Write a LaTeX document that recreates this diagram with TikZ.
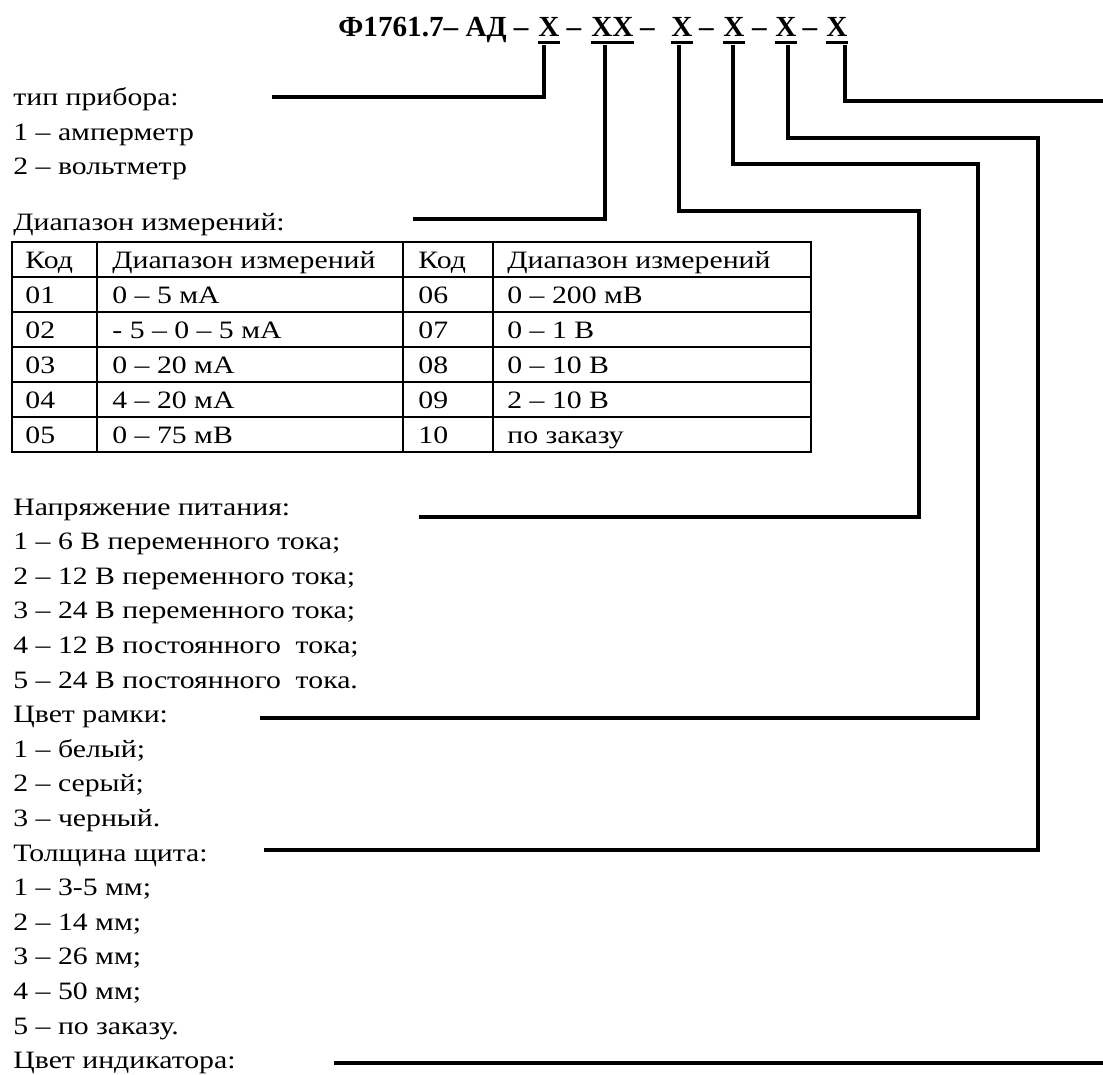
\documentclass[tikz,border=0pt]{standalone}
\usepackage{fontspec}
\setmainfont{Liberation Serif}
\newfontfamily\wideserif[FakeStretch=1.19]{Liberation Serif}

\begin{document}
\begin{tikzpicture}[x=0.48pt,y=-0.48pt,
  txt/.style={anchor=base west,inner sep=0pt,font=\wideserif\fontsize{12}{14}\selectfont},
  code/.style={anchor=base,inner sep=0pt,font=\fontsize{14}{17}\selectfont\bfseries},
  lead/.style={line width=1.6pt},
  uline/.style={line width=1.5pt},
  grid/.style={line width=0.6pt}]
\useasboundingbox (0,0) rectangle (1103,1075);
\node[code,anchor=base east] (t0) at (529,36.5) {Ф1761.7– АД –};
\node[code] (x1) at (549,36.5) {X};
\node[code] (d1) at (574,36.5) {–};
\node[code] (x2) at (612.5,36.5) {XX};
\node[code] (d2) at (647.5,36.5) {–};
\node[code] (x3) at (682,36.5) {X};
\node[code] (d3) at (706.5,36.5) {–};
\node[code] (x4) at (734,36.5) {X};
\node[code] (d4) at (759.5,36.5) {–};
\node[code] (x5) at (786,36.5) {X};
\node[code] (d5) at (810,36.5) {–};
\node[code] (x6) at (837,36.5) {X};
\draw[uline] ([yshift=-2.7pt]x1.base west) -- ([yshift=-2.7pt]x1.base east);
\draw[uline] ([yshift=-2.7pt]x2.base west) -- ([yshift=-2.7pt]x2.base east);
\draw[uline] ([yshift=-2.7pt]x3.base west) -- ([yshift=-2.7pt]x3.base east);
\draw[uline] ([yshift=-2.7pt]x4.base west) -- ([yshift=-2.7pt]x4.base east);
\draw[uline] ([yshift=-2.7pt]x5.base west) -- ([yshift=-2.7pt]x5.base east);
\draw[uline] ([yshift=-2.7pt]x6.base west) -- ([yshift=-2.7pt]x6.base east);
\node[txt] (a0) at (13,105.5) {тип прибора:};
\node[txt] (a1) at (13,140.1) {1 – амперметр};
\node[txt] (a2) at (13,174.7) {2 – вольтметр};
\node[txt] (b0) at (13,230) {Диапазон измерений:};
\draw[grid] (12,242) rectangle (811,452);
\draw[grid] (12,277) -- (811,277) (12,312) -- (811,312) (12,347) -- (811,347)
  (12,382) -- (811,382) (12,417) -- (811,417);
\draw[grid] (97,242) -- (97,452) (403,242) -- (403,452) (493,242) -- (493,452);
\node[txt] (k0) at (25,268) {Код};
\node[txt] (v0) at (112,268) {Диапазон измерений};
\node[txt] (k1) at (25,303) {01};
\node[txt] (v1) at (112,303) {0 – 5 мА};
\node[txt] (k2) at (25,338) {02};
\node[txt] (v2) at (112,338) {- 5 – 0 – 5 мА};
\node[txt] (k3) at (25,373) {03};
\node[txt] (v3) at (112,373) {0 – 20 мА};
\node[txt] (k4) at (25,408) {04};
\node[txt] (v4) at (112,408) {4 – 20 мА};
\node[txt] (k5) at (25,443) {05};
\node[txt] (v5) at (112,443) {0 – 75 мВ};
\node[txt] (m0) at (418,268) {Код};
\node[txt] (w0) at (507,268) {Диапазон измерений};
\node[txt] (m1) at (418,303) {06};
\node[txt] (w1) at (507,303) {0 – 200 мВ};
\node[txt] (m2) at (418,338) {07};
\node[txt] (w2) at (507,338) {0 – 1 В};
\node[txt] (m3) at (418,373) {08};
\node[txt] (w3) at (507,373) {0 – 10 В};
\node[txt] (m4) at (418,408) {09};
\node[txt] (w4) at (507,408) {2 – 10 В};
\node[txt] (m5) at (418,443) {10};
\node[txt] (w5) at (507,443) {по заказу};
\node[txt] (c0) at (13,515) {Напряжение питания:};
\node[txt] (c1) at (13,549.6) {1 – 6 В переменного тока;};
\node[txt] (c2) at (13,584.2) {2 – 12 В переменного тока;};
\node[txt] (c3) at (13,618.8) {3 – 24 В переменного тока;};
\node[txt] (c4) at (13,653.4) {4 – 12 В постоянного\ \ тока;};
\node[txt] (c5) at (13,688) {5 – 24 В постоянного\ \ тока.};
\node[txt] (f0) at (13,722.6) {Цвет рамки:};
\node[txt] (f1) at (13,757.2) {1 – белый;};
\node[txt] (f2) at (13,791.8) {2 – серый;};
\node[txt] (f3) at (13,826.4) {3 – черный.};
\node[txt] (g0) at (13,861) {Толщина щита:};
\node[txt] (g1) at (13,895.6) {1 – 3-5 мм;};
\node[txt] (g2) at (13,930.2) {2 – 14 мм;};
\node[txt] (g3) at (13,964.8) {3 – 26 мм;};
\node[txt] (g4) at (13,999.4) {4 – 50 мм;};
\node[txt] (g5) at (13,1034) {5 – по заказу.};
\node[txt] (h0) at (13,1068.6) {Цвет индикатора:};
\coordinate (e1) at (272,97);
\coordinate (e2) at (413,219);
\coordinate (q3) at (919,211);
\coordinate (e3) at (419,517);
\coordinate (q4) at (978,164);
\coordinate (e4) at (260,718);
\coordinate (q5) at (1038,138);
\coordinate (e5) at (264,850);
\coordinate (e6) at (1105,101);
\coordinate (s7) at (334,1063);
\coordinate (e7) at (1105,1063);
\draw[lead] ([xshift=-2.4pt,yshift=-4.1pt]x1.base) |- (e1);
\draw[lead] ([xshift=-3.6pt,yshift=-4.1pt]x2.base) |- (e2);
\draw[lead] ([xshift=-1.4pt,yshift=-4.1pt]x3.base) |- (q3) |- (e3);
\draw[lead] ([xshift=-0.5pt,yshift=-4.1pt]x4.base) |- (q4) |- (e4);
\draw[lead] ([xshift=1pt,yshift=-4.1pt]x5.base) |- (q5) |- (e5);
\draw[lead] ([xshift=3.8pt,yshift=-4.1pt]x6.base) |- (e6);
\draw[lead] (s7) -- (e7);
\end{tikzpicture}
\end{document}
